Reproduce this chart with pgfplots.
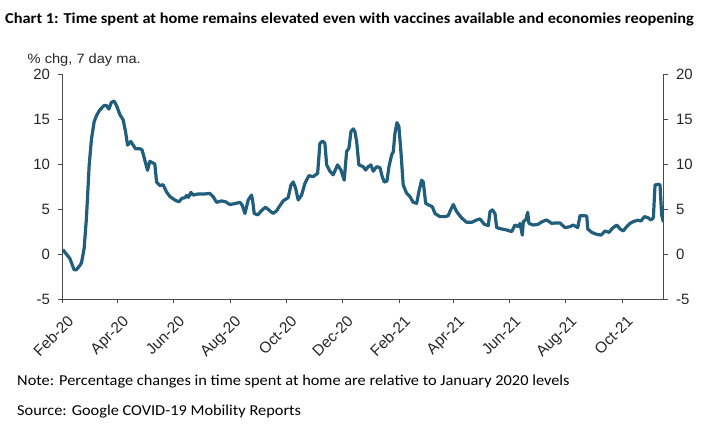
\documentclass[border=0pt]{standalone}
\usepackage{pgfplots}
\pgfplotsset{compat=1.18}
\usepackage{fontspec}
\setmainfont{Liberation Sans}
\newfontfamily\calfont{Carlito}
\newcommand\yl{\fontsize{15}{17}\selectfont}
\newcommand\xl{\fontsize{15.5}{17}\selectfont}
\definecolor{linec}{HTML}{215E7C}
\definecolor{axc}{HTML}{4A4A4A}
\begin{document}
\begin{tikzpicture}
\useasboundingbox (0,0) rectangle (725bp,434bp);
\pgfplotsset{
  common/.style={
    at={(62.5bp,135bp)}, anchor=south west,
    scale only axis, width=601bp, height=225bp,
    xmin=0, xmax=653, ymin=-5, ymax=20,
    ytick={-5,0,5,10,15,20}, yticklabels={{\yl -5},{\yl 0},{\yl 5},{\yl 10},{\yl 15},{\yl 20}},
    tick align=outside, major tick length=4.5bp,
    axis line style={draw=axc, line width=0.9pt, -},
    tick style={draw=axc, line width=0.9pt},
  }
}
\begin{axis}[common,
  axis x line*=bottom, axis y line*=left,
  xtick={0,60,121,182,243,304,366,425,486,547,608},
  xticklabels={{\xl Feb-20},{\xl Apr-20},{\xl Jun-20},{\xl Aug-20},{\xl Oct-20},{\xl Dec-20},{\xl Feb-21},{\xl Apr-21},{\xl Jun-21},{\xl Aug-21},{\xl Oct-21}},
  xticklabel style={xshift=4bp, yshift=-11bp, rotate=45, anchor=north east, inner sep=0pt, text=black!85},
  yticklabel style={text=black!85, xshift=-4.5bp},
]
\addplot[color=linec, line width=3.2bp, line join=round, line cap=round] coordinates {
(0.7,0.44) (3.3,0.1) (8,-0.5) (12.6,-1.75) (15,-1.75) (18,-1.4) (20.6,-1.0) (23.5,0.6) (26,4.0) (27.9,7.7)
(29,9.9) (31.5,12.8) (34.4,14.7) (37,15.4) (40.5,16.0) (45.3,16.5) (47.8,16.5) (50.3,16.1) (53.2,16.85) (56,17.0)
(58.7,16.5) (62.3,15.5) (65.9,14.9) (68.5,13.6) (70.7,12.1) (74.2,12.5) (76.8,12.1) (79.3,11.7) (84,11.7) (86.5,11.55)
(89.5,10.4) (92.4,9.3) (94.9,10.3) (98.5,10.1) (100.3,10.0) (102.2,8.0) (105.8,7.6) (109.3,7.7) (113,6.9) (116.6,6.4)
(122,6.0) (126.4,5.8) (130,6.2) (133,6.25) (134.8,6.5) (137,6.3) (139.5,6.85) (142,6.55) (147.4,6.67) (154.7,6.67)
(160,6.74) (163.7,6.37) (167.4,5.74) (172.8,5.9) (177.2,5.8) (181.8,5.5) (187.3,5.6) (192.7,5.74) (195.2,5.44) (198.2,4.5)
(201.8,6.0) (205.4,6.55) (206.5,6.0) (208.3,4.5) (212.3,4.35) (216,4.8) (220.5,5.2) (225.3,4.8) (228.9,4.5) (232.6,4.8)
(236.2,5.37) (239.8,5.9) (245.2,6.26) (248.2,7.67) (250.7,8.0) (253.3,7.3) (256.1,6.0) (259.8,6.55) (263.4,7.85) (267.7,8.7)
(272.4,8.6) (277.2,8.96) (279.7,12.3) (282.6,12.55) (285.1,12.3) (287,9.9) (290.5,9.2) (294.1,8.8) (298.9,9.9) (302.5,9.33)
(306.1,8.2) (308.7,11.4) (311.2,11.74) (313.4,13.6) (315.9,13.9) (317.7,13.6) (319.6,12.5) (322,9.9) (326.7,9.7) (329.3,9.33)
(332.2,9.7) (335.1,9.9) (337.6,9.2) (341.3,9.7) (344.9,9.6) (347.4,8.6) (349.6,8.0) (352.5,8.1) (354.7,9.7) (357.6,11.0)
(359.4,11.37) (361.2,13.4) (363.4,14.6) (365.5,14.15) (367.7,11.37) (370.2,7.67) (373.9,6.74) (377.5,6.37) (381.1,5.74) (384.8,5.63)
(387.6,7.1) (390.2,8.2) (392,8.0) (394.6,5.63) (399.2,5.37) (401.8,5.26) (404.7,4.5) (410.1,4.15) (415.5,4.15) (419.1,4.26)
(421.7,4.9) (424.6,5.5) (428.3,4.7) (433.7,4.0) (439.1,3.52) (444.6,3.52) (450,3.78) (453.6,3.9) (458.3,3.3) (462.6,3.15)
(464.5,4.7) (467,4.9) (469.9,4.5) (471.7,2.93) (477.2,2.78) (482.6,2.67) (488,2.48) (491.6,3.22) (495.2,3.04) (497.1,3.4)
(499.6,2.1) (500.7,3.6) (503.3,3.78) (505.4,4.63) (506.8,3.4) (511.5,3.22) (516.7,3.3) (521.3,3.6) (526.1,3.78) (531.5,3.4)
(535.1,3.45) (540.5,3.45) (546,2.93) (551.4,3.04) (555,3.22) (559.8,2.93) (562.3,4.26) (565.9,4.26) (569.6,4.22) (570.7,2.78)
(575,2.4) (580.4,2.19) (585.1,2.1) (589.5,2.56) (593.8,2.4) (597.4,2.85) (602.2,3.22) (605.8,2.78) (609.3,2.56) (613,3.04)
(616.6,3.4) (620.2,3.6) (625,3.75) (628.6,3.67) (632.2,4.15) (635.9,4.04) (639.5,3.78) (642,4.04) (643.8,7.67) (647.4,7.75)
(649.2,7.67) (651,4.33) (652.8,3.6)
};
\end{axis}
\begin{axis}[common,
  axis x line=none, axis y line*=right, xtick=\empty,
  yticklabel style={text=black!85, xshift=4.5bp},
]
\addplot[draw=none] coordinates {(0,0)};
\end{axis}
\node[anchor=base west, inner sep=0pt, xscale=1.08, transform shape, font=\calfont\bfseries\fontsize{15.2}{17}\selectfont] at (5bp,410bp)
  {Chart 1: Time spent at home remains elevated even with vaccines available and economies reopening};
\node[anchor=base west, inner sep=0pt, xscale=1.08, transform shape, font=\fontsize{13.6}{15}\selectfont, text=black!85] at (27.5bp,370bp)
  {\% chg, 7 day ma.};
\node[anchor=base west, inner sep=0pt, xscale=1.08, transform shape, font=\calfont\fontsize{15.2}{17}\selectfont] at (17bp,48bp)
  {Note: Percentage changes in time spent at home are relative to January 2020 levels};
\node[anchor=base west, inner sep=0pt, xscale=1.08, transform shape, font=\calfont\fontsize{15.2}{17}\selectfont] at (17bp,19bp)
  {Source: Google COVID-19 Mobility Reports};
\end{tikzpicture}
\end{document}
